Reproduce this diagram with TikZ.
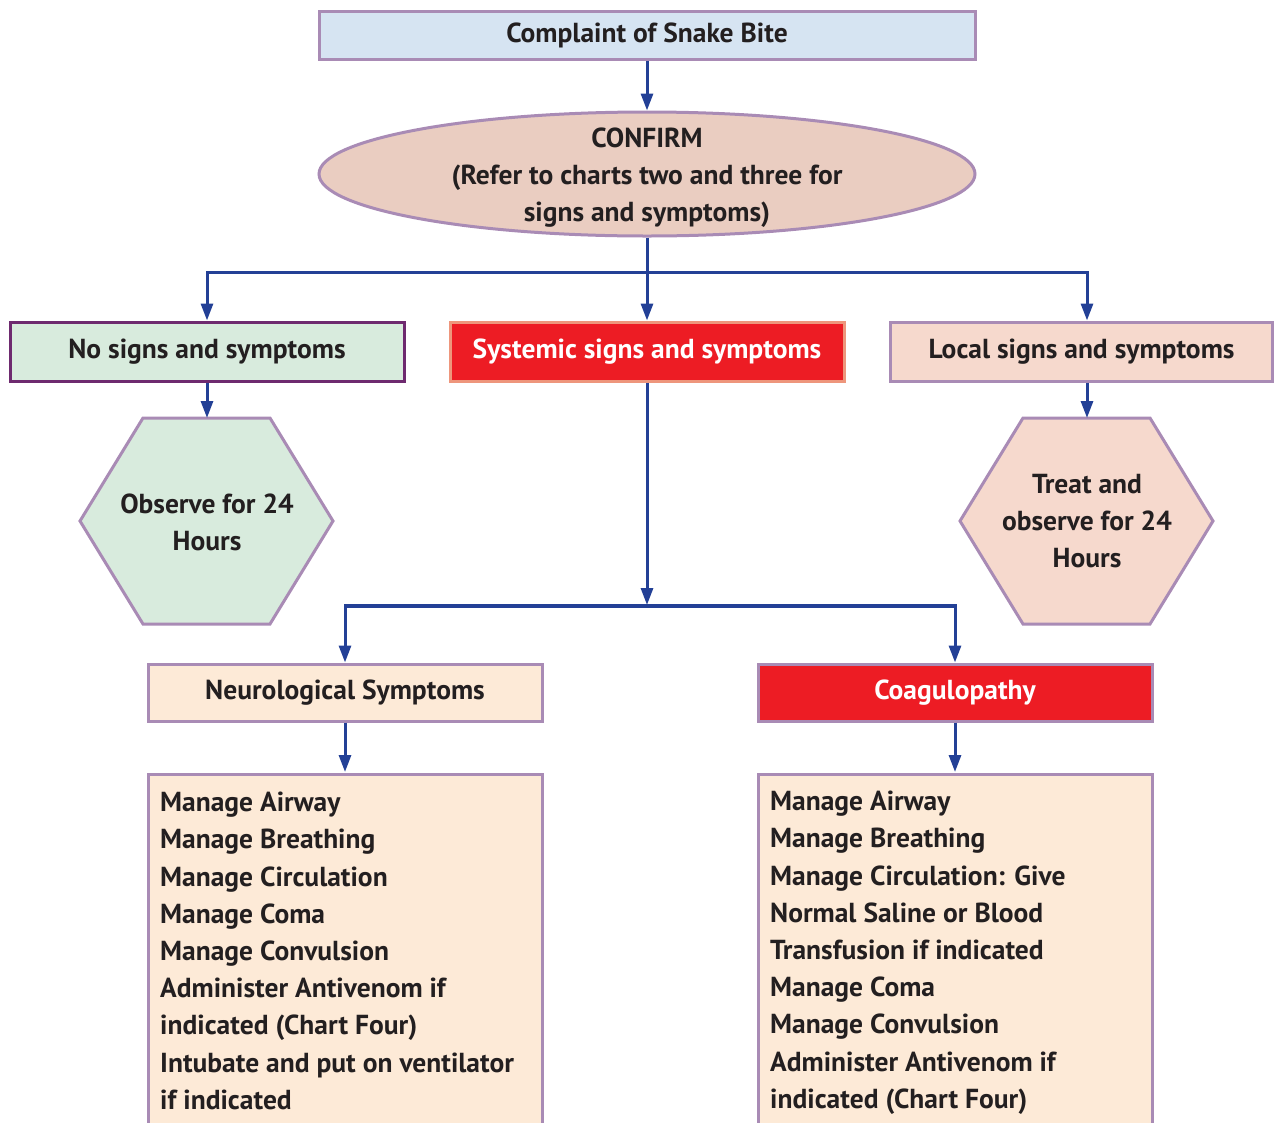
\documentclass[tikz,border=0pt]{standalone}
\usepackage{fontspec}
\setmainfont{PT Sans}
\usetikzlibrary{arrows.meta,shapes.geometric}

\definecolor{flow}{RGB}{35,64,150}
\definecolor{lilac}{RGB}{169,139,181}
\definecolor{plum}{RGB}{110,42,111}
\definecolor{salmonedge}{RGB}{238,150,124}
\definecolor{skyfill}{RGB}{214,228,242}
\definecolor{rosefill}{RGB}{234,205,193}
\definecolor{mintfill}{RGB}{216,235,221}
\definecolor{peachfill}{RGB}{246,217,205}
\definecolor{creamfill}{RGB}{253,234,215}
\definecolor{alarm}{RGB}{237,28,36}
\definecolor{ink}{RGB}{35,31,32}

\tikzset{
  every node/.style={font=\fontsize{27.5}{37.2}\selectfont\bfseries, text=ink},
  box/.style={draw=lilac, line width=3pt, rectangle, inner sep=0pt, align=center},
  arr/.style={draw=flow, line width=3pt, -{Triangle[length=17pt,width=12pt]}},
  wire/.style={draw=flow, line width=3pt},
  hexfill/.style={draw=lilac, line width=3pt, line join=miter},
}

\begin{document}
\begin{tikzpicture}[x=1pt,y=-1pt]
\useasboundingbox (0,0) rectangle (1274,1122);

% top level
\node[box, fill=skyfill, minimum width=656pt, minimum height=48pt] (bite) at (647,35) {Complaint of Snake Bite};
\node[ellipse, draw=lilac, line width=3pt, fill=rosefill, minimum width=656pt, minimum height=124pt, inner sep=0pt] (confirm) at (647,174) {};
\node[align=center] (confirmText) at (647,178)
  {CONFIRM\\(Refer to charts two and three for\\signs and symptoms)};

% three branches
\node[box, draw=plum, fill=mintfill, minimum width=394pt, minimum height=59pt] (none) at (207,351.5) {No signs and symptoms};
\node[box, draw=salmonedge, fill=alarm, text=white, minimum width=394pt, minimum height=59pt] (sys) at (647,351.5) {Systemic signs and symptoms};
\node[box, fill=peachfill, minimum width=382pt, minimum height=59pt] (local) at (1081.5,351.5) {Local signs and symptoms};

% hexagons
\path[hexfill, fill=mintfill] (143,418) -- (270,418) -- (333,521) -- (270,624) -- (143,624) -- (80,521) -- cycle;
\coordinate (hexLtop) at (207,418);
\node[align=center] (hexL) at (207,522) {Observe for 24\\Hours};
\path[hexfill, fill=peachfill] (1023,418) -- (1150,418) -- (1213,521) -- (1150,624) -- (1023,624) -- (960,521) -- cycle;
\coordinate (hexRtop) at (1087,418);
\node[align=center] (hexR) at (1087,521) {Treat and\\observe for 24\\Hours};

% systemic split
\node[box, fill=creamfill, minimum width=394pt, minimum height=57pt] (neuro) at (345,692.5) {Neurological Symptoms};
\node[box, fill=alarm, text=white, minimum width=394pt, minimum height=57pt] (coag) at (955,692.5) {Coagulopathy};

% management lists (run past the lower edge)
\path[fill=creamfill] (148,774) rectangle (542,1130);
\draw[lilac, line width=3pt] (148,1130) -- (148,774) -- (542,774) -- (542,1130);
\coordinate (neuroListTop) at (345,772);
\node[anchor=north west, align=left, inner sep=0pt] (neuroList) at (160,792)
  {Manage Airway\\Manage Breathing\\Manage Circulation\\Manage Coma\\Manage Convulsion\\Administer Antivenom if\\indicated (Chart Four)\\Intubate and put on ventilator\\if indicated};

\path[fill=creamfill] (758,774) rectangle (1152,1130);
\draw[lilac, line width=3pt] (758,1130) -- (758,774) -- (1152,774) -- (1152,1130);
\coordinate (coagListTop) at (955,772);
\node[anchor=north west, align=left, inner sep=0pt] (coagList) at (770,791)
  {Manage Airway\\Manage Breathing\\Manage Circulation: Give\\Normal Saline or Blood\\Transfusion if indicated\\Manage Coma\\Manage Convulsion\\Administer Antivenom if\\indicated (Chart Four)};

% connectors
\draw[arr] (bite.south) -- (confirm.north);
\coordinate (fork) at (647,272);
\draw[wire] (confirm.south) -- (fork);
\draw[arr] (fork) -| (none.north);
\draw[arr] (fork) -- (sys.north);
\draw[arr] (fork) -| ([xshift=5.5pt]local.north);
\draw[arr] (none.south) -- (hexLtop);
\draw[arr] ([xshift=5.5pt]local.south) -- (hexRtop);
\coordinate (fork2) at (647,605);
\draw[arr] (sys.south) -- (fork2);
\draw[wire] (345,606) -- (956,606);
\draw[arr] (fork2) -| (neuro.north);
\draw[arr] (fork2) -| (coag.north);
\draw[arr] (neuro.south) -- (neuroListTop);
\draw[arr] (coag.south) -- (coagListTop);
\end{tikzpicture}
\end{document}
